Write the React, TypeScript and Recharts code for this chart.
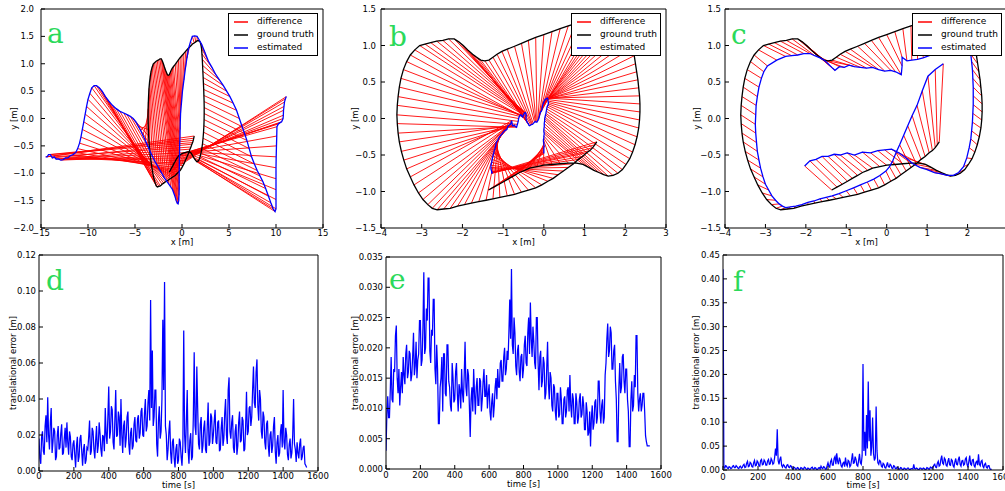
import type { ReactNode } from 'react';
import { Label, Legend, Line, LineChart, XAxis, YAxis } from 'recharts';

type Pt = [number, number];

// ground truth path, shared by panels a, b and c  [x, y] in metres
const groundTruth: Pt[] = [
  [-1.36, -0.98], [-1.23, -0.94], [-1.1, -0.9], [-0.97, -0.86], [-0.85, -0.82], [-0.72, -0.78], [-0.6, -0.74], [-0.47, -0.71], [-0.35, -0.68], [-0.17, -0.66],
  [0.0, -0.64], [0.2, -0.63], [0.4, -0.62], [0.6, -0.61], [0.8, -0.61], [0.96, -0.63], [1.1, -0.67], [1.23, -0.71], [1.35, -0.74], [1.47, -0.77],
  [1.58, -0.79], [1.7, -0.78], [1.82, -0.75], [1.93, -0.7], [2.02, -0.63], [2.11, -0.55], [2.18, -0.46], [2.24, -0.36], [2.29, -0.25], [2.33, -0.13],
  [2.35, -0.02], [2.36, 0.09], [2.36, 0.2], [2.35, 0.31], [2.33, 0.42], [2.31, 0.53], [2.28, 0.64], [2.25, 0.75], [2.22, 0.86], [2.19, 0.97],
  [2.16, 1.08], [2.12, 1.18], [2.08, 1.28], [2.01, 1.35], [1.92, 1.4], [1.78, 1.42],
  [1.62, 1.42], [1.46, 1.4], [1.3, 1.38], [1.12, 1.36], [0.95, 1.33], [0.78, 1.3], [0.6, 1.27], [0.4, 1.23], [0.2, 1.19], [0.0, 1.15],
  [-0.2, 1.11], [-0.38, 1.07], [-0.55, 1.03], [-0.72, 0.99], [-0.9, 0.95], [-1.03, 0.92], [-1.15, 0.88], [-1.25, 0.84], [-1.35, 0.8], [-1.45, 0.79],
  [-1.55, 0.8], [-1.65, 0.84], [-1.75, 0.88], [-1.87, 0.94], [-1.98, 1.0], [-2.09, 1.05], [-2.2, 1.09], [-2.34, 1.09], [-2.48, 1.07], [-2.63, 1.06],
  [-2.78, 1.04], [-2.92, 1.02], [-3.05, 1.0], [-3.17, 0.94],
  [-3.28, 0.87], [-3.37, 0.78], [-3.45, 0.67], [-3.51, 0.55], [-3.55, 0.43], [-3.58, 0.3], [-3.6, 0.18], [-3.61, 0.05], [-3.6, -0.07], [-3.58, -0.2],
  [-3.55, -0.32], [-3.5, -0.45], [-3.44, -0.57], [-3.37, -0.69], [-3.28, -0.8], [-3.19, -0.91], [-3.08, -1.02], [-2.97, -1.11], [-2.85, -1.18], [-2.74, -1.23],
  [-2.62, -1.25], [-2.46, -1.24],
  [-2.3, -1.23], [-2.12, -1.2], [-1.95, -1.18], [-1.78, -1.16], [-1.6, -1.14], [-1.42, -1.12], [-1.25, -1.1], [-1.08, -1.08], [-0.9, -1.06], [-0.72, -1.04],
  [-0.55, -1.01], [-0.38, -0.98], [-0.2, -0.95], [-0.05, -0.91], [0.1, -0.86], [0.23, -0.82], [0.35, -0.77], [0.48, -0.72], [0.6, -0.67], [0.73, -0.62],
  [0.85, -0.56], [0.95, -0.52], [1.05, -0.47], [1.13, -0.44], [1.2, -0.4], [1.25, -0.36], [1.3, -0.32],
];

const estimatedA: Pt[] = [
  [11.1, 0.4], [11.0, 0.36], [10.9, 0.3], [10.85, 0.22], [10.8, 0.15], [10.78, 0.06], [10.75, 0.0], [10.6, -0.06], [10.4, -0.08], [10.25, -0.1],
  [10.1, -0.15], [10.08, -0.32], [10.05, -0.5], [10.02, -0.7], [10.0, -0.9], [10.0, -1.1], [10.0, -1.3], [10.0, -1.48], [10.0, -1.65], [9.9, -1.7],
  [9.7, -1.65], [9.45, -1.54], [9.2, -1.42], [8.9, -1.28], [8.6, -1.15], [8.3, -1.05], [8.0, -0.95], [7.7, -0.83], [7.4, -0.7], [7.15, -0.55],
  [6.9, -0.4], [6.65, -0.27], [6.4, -0.15], [6.1, 0.0], [5.8, 0.15], [5.45, 0.28], [5.1, 0.4], [4.75, 0.5], [4.4, 0.6], [4.0, 0.7],
  [3.6, 0.8], [3.2, 0.93], [2.8, 1.05], [2.45, 1.2], [2.1, 1.35], [1.85, 1.43],
  [1.6, 1.5], [1.35, 1.51], [1.1, 1.5], [0.9, 1.4], [0.7, 1.28], [0.52, 1.1], [0.35, 0.9], [0.2, 0.7], [0.05, 0.5], [-0.05, 0.3],
  [-0.15, 0.1], [-0.18, -0.05], [-0.2, -0.2], [-0.22, -0.35], [-0.25, -0.5], [-0.26, -0.65], [-0.28, -0.8], [-0.29, -0.92], [-0.3, -1.05], [-0.3, -1.18],
  [-0.3, -1.3], [-0.32, -1.4], [-0.35, -1.5], [-0.42, -1.56], [-0.5, -1.55], [-0.62, -1.5], [-0.75, -1.42], [-0.88, -1.36], [-1.0, -1.3], [-1.2, -1.25],
  [-1.4, -1.2], [-1.65, -1.14], [-1.9, -1.08], [-2.15, -1.0],
  [-2.4, -0.93], [-2.65, -0.85], [-2.9, -0.78], [-3.15, -0.69], [-3.4, -0.6], [-3.65, -0.5], [-3.9, -0.4], [-4.15, -0.31], [-4.4, -0.22], [-4.65, -0.14],
  [-4.9, -0.06], [-5.2, 0.0], [-5.5, 0.04], [-5.85, 0.07], [-6.2, 0.1], [-6.6, 0.13], [-7.0, 0.18], [-7.4, 0.24], [-7.8, 0.32], [-8.15, 0.4],
  [-8.5, 0.5], [-8.8, 0.56],
  [-9.1, 0.6], [-9.35, 0.6], [-9.6, 0.56], [-9.8, 0.46], [-10.0, 0.35], [-10.15, 0.22], [-10.3, 0.08], [-10.45, -0.06], [-10.6, -0.2], [-10.75, -0.34],
  [-10.9, -0.45], [-11.1, -0.55], [-11.3, -0.62], [-11.6, -0.66], [-11.9, -0.68], [-12.15, -0.72], [-12.4, -0.72], [-12.65, -0.75], [-12.9, -0.76], [-13.15, -0.74],
  [-13.4, -0.74], [-13.6, -0.7], [-13.8, -0.72], [-14.0, -0.66], [-14.2, -0.66], [-14.35, -0.7], [-14.5, -0.7],
];

const estimatedB: Pt[] = [
  [0.0, -0.48], [0.0, -0.47], [0.0, -0.46], [0.0, -0.45], [0.0, -0.44], [0.0, -0.42], [0.0, -0.4], [0.01, -0.38], [0.0, -0.36], [0.0, -0.34],
  [-0.01, -0.31], [-0.01, -0.29], [0.0, -0.27], [0.0, -0.24], [0.01, -0.21], [0.0, -0.18], [0.0, -0.15], [0.01, -0.11], [0.01, -0.07], [0.02, -0.03],
  [0.02, 0.0], [0.03, 0.02], [0.04, 0.05], [0.05, 0.07], [0.06, 0.1], [0.07, 0.13], [0.08, 0.16], [0.1, 0.18], [0.11, 0.2], [0.11, 0.22],
  [0.1, 0.24], [0.1, 0.26], [0.09, 0.28], [0.08, 0.28], [0.06, 0.27], [0.05, 0.27], [0.04, 0.26], [0.03, 0.26], [0.02, 0.25], [0.01, 0.24],
  [0.0, 0.23], [0.0, 0.22], [-0.01, 0.21], [-0.01, 0.21], [-0.02, 0.2], [-0.02, 0.2],
  [-0.03, 0.18], [-0.04, 0.15], [-0.05, 0.12], [-0.06, 0.1], [-0.08, 0.09], [-0.1, 0.06], [-0.11, 0.03], [-0.12, 0.01], [-0.13, -0.01], [-0.15, -0.03],
  [-0.17, -0.05], [-0.19, -0.05], [-0.21, -0.04], [-0.23, -0.05], [-0.26, -0.07], [-0.28, -0.08], [-0.3, -0.08], [-0.32, -0.09], [-0.35, -0.1], [-0.37, -0.09],
  [-0.38, -0.07], [-0.4, -0.06], [-0.42, -0.04], [-0.43, -0.02], [-0.44, 0.0], [-0.44, 0.02], [-0.43, 0.04], [-0.44, 0.06], [-0.45, 0.08], [-0.46, 0.08],
  [-0.47, 0.08], [-0.48, 0.07], [-0.49, 0.06], [-0.5, 0.05],
  [-0.52, 0.02], [-0.54, 0.03], [-0.56, 0.05], [-0.58, 0.05], [-0.6, 0.03], [-0.62, 0.0], [-0.63, -0.04], [-0.65, -0.08], [-0.67, -0.12], [-0.7, -0.11],
  [-0.72, -0.09], [-0.75, -0.1], [-0.77, -0.1], [-0.78, -0.07], [-0.79, -0.03], [-0.8, -0.05], [-0.82, -0.08], [-0.84, -0.09], [-0.87, -0.1], [-0.89, -0.12],
  [-0.91, -0.15], [-0.94, -0.16],
  [-0.97, -0.17], [-1.0, -0.19], [-1.04, -0.22], [-1.06, -0.23], [-1.09, -0.25], [-1.11, -0.27], [-1.13, -0.3], [-1.15, -0.31], [-1.17, -0.33], [-1.18, -0.37],
  [-1.2, -0.41], [-1.22, -0.44], [-1.23, -0.47], [-1.25, -0.51], [-1.27, -0.56], [-1.28, -0.6], [-1.3, -0.64], [-1.3, -0.67], [-1.3, -0.69], [-1.29, -0.71],
  [-1.28, -0.73], [-1.28, -0.73], [-1.28, -0.74], [-1.27, -0.74], [-1.28, -0.75], [-1.28, -0.75], [-1.29, -0.75],
];

const estimatedC: Pt[] = [
  [-2.03, -0.65], [-1.9, -0.58], [-1.75, -0.56], [-1.6, -0.52], [-1.45, -0.52], [-1.3, -0.49], [-1.15, -0.5], [-0.98, -0.47], [-0.8, -0.5], [-0.6, -0.46],
  [-0.4, -0.47], [-0.22, -0.44], [-0.05, -0.43], [0.12, -0.42], [0.3, -0.47], [0.48, -0.54], [0.65, -0.62], [0.82, -0.67], [1.0, -0.7], [1.18, -0.74],
  [1.35, -0.76], [1.5, -0.78], [1.65, -0.78], [1.78, -0.74], [1.9, -0.66], [1.98, -0.54], [2.04, -0.4], [2.08, -0.28], [2.1, -0.17], [2.12, -0.05],
  [2.13, 0.07], [2.14, 0.19], [2.14, 0.31], [2.14, 0.43], [2.13, 0.55], [2.12, 0.67], [2.1, 0.78], [2.08, 0.88], [2.05, 0.98], [2.02, 1.06],
  [1.98, 1.12], [1.94, 1.17], [1.9, 1.2], [1.82, 1.12], [1.75, 1.02], [1.65, 1.0],
  [1.55, 0.98], [1.38, 0.93], [1.2, 0.9], [1.05, 0.86], [0.9, 0.83], [0.76, 0.81], [0.62, 0.8], [0.5, 0.79], [0.38, 0.84], [0.38, 0.72],
  [0.36, 0.6], [0.22, 0.64], [0.1, 0.66], [-0.05, 0.65], [-0.2, 0.67], [-0.35, 0.7], [-0.5, 0.69], [-0.65, 0.7], [-0.8, 0.71], [-0.93, 0.73],
  [-1.05, 0.7], [-1.17, 0.71], [-1.28, 0.66], [-1.36, 0.7], [-1.45, 0.75], [-1.55, 0.8], [-1.65, 0.83], [-1.78, 0.86], [-1.9, 0.89], [-2.05, 0.89],
  [-2.2, 0.87], [-2.35, 0.86], [-2.5, 0.85], [-2.72, 0.8],
  [-2.95, 0.72], [-3.04, 0.64], [-3.1, 0.55], [-3.16, 0.43], [-3.2, 0.3], [-3.23, 0.18], [-3.24, 0.05], [-3.25, -0.08], [-3.24, -0.2], [-3.22, -0.33],
  [-3.2, -0.45], [-3.16, -0.57], [-3.12, -0.68], [-3.06, -0.8], [-3.0, -0.9], [-2.92, -0.98], [-2.84, -1.06], [-2.75, -1.12], [-2.66, -1.17], [-2.58, -1.2],
  [-2.5, -1.22], [-2.38, -1.21],
  [-2.25, -1.2], [-2.1, -1.18], [-1.95, -1.15], [-1.8, -1.13], [-1.65, -1.1], [-1.5, -1.08], [-1.35, -1.06], [-1.18, -1.03], [-1.0, -0.99], [-0.82, -0.95],
  [-0.65, -0.91], [-0.48, -0.87], [-0.32, -0.83], [-0.17, -0.78], [-0.02, -0.72], [0.07, -0.66], [0.15, -0.58], [0.23, -0.47], [0.32, -0.36], [0.42, -0.23],
  [0.52, -0.1], [0.63, 0.04], [0.75, 0.18], [0.88, 0.38], [1.02, 0.58], [1.2, 0.67], [1.4, 0.75],
];

const xTicksA = [-15, -10, -5, 0, 5, 10, 15];
const yTicksA = [-2, -1.5, -1, -0.5, 0, 0.5, 1, 1.5, 2];
const xTicksB = [-4, -3, -2, -1, 0, 1, 2, 3];
const xTicksC = [-4, -3, -2, -1, 0, 1, 2];
const yTicksBC = [-1.5, -1, -0.5, 0, 0.5, 1, 1.5];

const SAMPLE_STEP = 5; // seconds between error samples
const timeTicks = [0, 200, 400, 600, 800, 1000, 1200, 1400, 1600];

const errorD = [
  0.018, 0.007, 0.004, 0.019, 0.022, 0.011, 0.009, 0.025, 0.031, 0.016, 0.041, 0.02, 0.012, 0.027, 0.035, 0.01,
  0.016, 0.024, 0.022, 0.006, 0.008, 0.02, 0.025, 0.012, 0.013, 0.021, 0.026, 0.009, 0.01, 0.018, 0.024, 0.013,
  0.027, 0.016, 0.009, 0.022, 0.019, 0.008, 0.006, 0.015, 0.017, 0.009, 0.002, 0.014, 0.019, 0.005, 0.008, 0.018,
  0.02, 0.011, 0.003, 0.012, 0.015, 0.004, 0.006, 0.013, 0.012, 0.019, 0.028, 0.009, 0.011, 0.024, 0.022, 0.012,
  0.007, 0.017, 0.025, 0.01, 0.014, 0.027, 0.021, 0.012, 0.008, 0.02, 0.019, 0.011, 0.035, 0.02, 0.015, 0.03,
  0.047, 0.018, 0.022, 0.036, 0.034, 0.016, 0.012, 0.028, 0.045, 0.019, 0.02, 0.033, 0.03, 0.014, 0.04, 0.02,
  0.01, 0.025, 0.028, 0.013, 0.018, 0.03, 0.033, 0.015, 0.009, 0.021, 0.024, 0.012, 0.014, 0.026, 0.03, 0.017,
  0.016, 0.029, 0.031, 0.018, 0.021, 0.033, 0.035, 0.02, 0.019, 0.032, 0.04, 0.022, 0.025, 0.038, 0.045, 0.028,
  0.095, 0.035, 0.067, 0.025, 0.03, 0.045, 0.045, 0.015, 0.008, 0.028, 0.036, 0.018, 0.022, 0.04, 0.084, 0.045,
  0.105, 0.025, 0.02, 0.006, 0.012, 0.022, 0.028, 0.01, 0.004, 0.016, 0.018, 0.007, 0.002, 0.012, 0.015, 0.004,
  0.006, 0.018, 0.016, 0.008, 0.003, 0.014, 0.078, 0.02, 0.01, 0.028, 0.045, 0.012, 0.004, 0.017, 0.021, 0.006,
  0.008, 0.03, 0.066, 0.025, 0.02, 0.058, 0.035, 0.015, 0.012, 0.026, 0.03, 0.01, 0.014, 0.024, 0.028, 0.012,
  0.01, 0.025, 0.038, 0.014, 0.016, 0.032, 0.03, 0.015, 0.02, 0.028, 0.034, 0.016, 0.015, 0.027, 0.028, 0.011,
  0.012, 0.024, 0.03, 0.014, 0.018, 0.032, 0.04, 0.02, 0.015, 0.045, 0.052, 0.022, 0.018, 0.027, 0.031, 0.013,
  0.01, 0.022, 0.026, 0.009, 0.014, 0.027, 0.033, 0.016, 0.017, 0.03, 0.028, 0.011, 0.012, 0.025, 0.044, 0.02,
  0.022, 0.035, 0.036, 0.025, 0.03, 0.045, 0.058, 0.038, 0.035, 0.055, 0.062, 0.036, 0.028, 0.045, 0.04, 0.022,
  0.018, 0.033, 0.03, 0.016, 0.012, 0.026, 0.028, 0.014, 0.008, 0.02, 0.022, 0.01, 0.014, 0.025, 0.03, 0.011,
  0.004, 0.016, 0.02, 0.008, 0.01, 0.022, 0.026, 0.013, 0.045, 0.016, 0.012, 0.024, 0.02, 0.009, 0.006, 0.015,
  0.018, 0.007, 0.01, 0.02, 0.04, 0.015, 0.012, 0.005, 0.016, 0.01, 0.007, 0.015, 0.018, 0.006, 0.008, 0.013,
  0.014, 0.004, 0.003, 0.002,
];

const errorE = [
  0.003, 0.009, 0.012, 0.0085, 0.0085, 0.013, 0.0185, 0.0115, 0.011, 0.0165, 0.016, 0.022, 0.0237, 0.015, 0.0125, 0.0165,
  0.0105, 0.0135, 0.016, 0.0125, 0.0185, 0.0155, 0.014, 0.019, 0.0205, 0.015, 0.016, 0.0195, 0.019, 0.0145, 0.0155, 0.0185,
  0.0225, 0.0155, 0.017, 0.021, 0.015, 0.018, 0.019, 0.0245, 0.0245, 0.017, 0.018, 0.0235, 0.0325, 0.019, 0.02, 0.0265,
  0.0245, 0.0315, 0.0315, 0.0195, 0.0175, 0.023, 0.022, 0.028, 0.028, 0.0165, 0.014, 0.0205, 0.0165, 0.0075, 0.0075, 0.0135,
  0.015, 0.0185, 0.0095, 0.019, 0.019, 0.0125, 0.012, 0.0205, 0.0205, 0.0145, 0.0135, 0.0105, 0.0095, 0.0175, 0.015, 0.011,
  0.0115, 0.016, 0.0175, 0.0125, 0.0095, 0.014, 0.013, 0.01, 0.0165, 0.0125, 0.011, 0.0155, 0.021, 0.0135, 0.012, 0.0165,
  0.0155, 0.0105, 0.0053, 0.0115, 0.0135, 0.0095, 0.0165, 0.0125, 0.009, 0.0135, 0.015, 0.0105, 0.0105, 0.015, 0.0145, 0.0095,
  0.0115, 0.0145, 0.0165, 0.012, 0.012, 0.0155, 0.01, 0.0125, 0.014, 0.0095, 0.008, 0.011, 0.0125, 0.0085, 0.0105, 0.0135,
  0.015, 0.0115, 0.0165, 0.0135, 0.0135, 0.0175, 0.018, 0.0145, 0.0145, 0.0185, 0.02, 0.0155, 0.0165, 0.0195, 0.018, 0.0225,
  0.028, 0.0215, 0.033, 0.0205, 0.019, 0.025, 0.0225, 0.017, 0.0155, 0.0195, 0.0205, 0.016, 0.0145, 0.0185, 0.019, 0.015,
  0.0165, 0.0205, 0.022, 0.0175, 0.017, 0.0225, 0.025, 0.019, 0.0275, 0.0215, 0.0185, 0.0235, 0.021, 0.0175, 0.0165, 0.025,
  0.025, 0.0175, 0.013, 0.0185, 0.0195, 0.0135, 0.0145, 0.0185, 0.0175, 0.0115, 0.0125, 0.0165, 0.021, 0.014, 0.0115, 0.016,
  0.015, 0.0105, 0.0095, 0.014, 0.0135, 0.0095, 0.008, 0.0125, 0.0125, 0.0085, 0.009, 0.0135, 0.0115, 0.0075, 0.0075, 0.0115,
  0.012, 0.0085, 0.0095, 0.013, 0.0135, 0.0095, 0.0155, 0.0105, 0.0085, 0.0125, 0.0115, 0.0075, 0.0075, 0.0125, 0.011, 0.0075,
  0.0085, 0.0115, 0.0125, 0.0085, 0.009, 0.012, 0.0105, 0.0065, 0.0065, 0.011, 0.0095, 0.0055, 0.006, 0.0095, 0.0037, 0.0085,
  0.0105, 0.0065, 0.0075, 0.011, 0.0115, 0.0075, 0.0085, 0.0145, 0.0145, 0.0095, 0.0075, 0.0105, 0.0115, 0.0075, 0.0085, 0.0155,
  0.0175, 0.0215, 0.024, 0.0185, 0.0195, 0.0235, 0.0225, 0.0165, 0.0165, 0.0195, 0.0205, 0.0145, 0.0115, 0.0045, 0.0045, 0.0135,
  0.0175, 0.0125, 0.0135, 0.0185, 0.019, 0.0145, 0.0125, 0.0165, 0.0165, 0.0115, 0.0095, 0.0037, 0.0037, 0.0115, 0.0145, 0.0095,
  0.0105, 0.0155, 0.0135, 0.022, 0.022, 0.0125, 0.0095, 0.0115, 0.0125, 0.0095, 0.0105, 0.0125, 0.0125, 0.0095, 0.0055, 0.0045,
  0.0038, 0.0038, 0.0038, 0.0038,
];

const errorF = [
  0.42, 0.006, 0.004, 0.009, 0.008, 0.004, 0.003, 0.007, 0.006, 0.003, 0.004, 0.008, 0.009, 0.005, 0.005, 0.009,
  0.007, 0.004, 0.003, 0.007, 0.008, 0.004, 0.005, 0.01, 0.012, 0.005, 0.006, 0.014, 0.018, 0.007, 0.008, 0.016,
  0.014, 0.007, 0.006, 0.015, 0.02, 0.009, 0.01, 0.019, 0.016, 0.009, 0.008, 0.02, 0.022, 0.011, 0.012, 0.021,
  0.018, 0.01, 0.01, 0.019, 0.022, 0.012, 0.013, 0.024, 0.02, 0.012, 0.014, 0.026, 0.045, 0.03, 0.085, 0.02,
  0.012, 0.022, 0.028, 0.01, 0.006, 0.011, 0.009, 0.005, 0.004, 0.01, 0.011, 0.006, 0.005, 0.009, 0.008, 0.003,
  0.002, 0.006, 0.005, 0.002, 0.002, 0.005, 0.004, 0.001, 0.001, 0.005, 0.004, 0.002, 0.002, 0.006, 0.005, 0.002,
  0.001, 0.004, 0.003, 0.001, 0.002, 0.005, 0.006, 0.002, 0.002, 0.005, 0.004, 0.001, 0.001, 0.004, 0.005, 0.002,
  0.008, 0.004, 0.003, 0.007, 0.006, 0.002, 0.002, 0.009, 0.015, 0.008, 0.006, 0.018, 0.022, 0.01, 0.01, 0.024,
  0.028, 0.012, 0.035, 0.018, 0.012, 0.026, 0.02, 0.009, 0.006, 0.014, 0.016, 0.007, 0.026, 0.012, 0.008, 0.02,
  0.018, 0.007, 0.01, 0.022, 0.035, 0.014, 0.015, 0.028, 0.022, 0.01, 0.008, 0.02, 0.034, 0.015, 0.012, 0.03,
  0.222, 0.04, 0.08, 0.03, 0.115, 0.045, 0.185, 0.06, 0.125, 0.03, 0.05, 0.11, 0.035, 0.02, 0.025, 0.133,
  0.04, 0.015, 0.012, 0.02, 0.018, 0.008, 0.006, 0.014, 0.012, 0.005, 0.004, 0.01, 0.016, 0.007, 0.006, 0.012,
  0.01, 0.004, 0.003, 0.009, 0.008, 0.003, 0.003, 0.006, 0.005, 0.002, 0.002, 0.005, 0.004, 0.001, 0.001, 0.004,
  0.003, 0.001, 0.002, 0.004, 0.004, 0.001, 0.001, 0.003, 0.003, 0.002, 0.012, 0.003, 0.002, 0.004, 0.003, 0.001,
  0.001, 0.004, 0.004, 0.002, 0.002, 0.004, 0.003, 0.001, 0.001, 0.005, 0.004, 0.002, 0.002, 0.006, 0.005, 0.003,
  0.006, 0.01, 0.012, 0.006, 0.005, 0.014, 0.018, 0.008, 0.01, 0.022, 0.03, 0.014, 0.012, 0.025, 0.022, 0.01,
  0.008, 0.018, 0.025, 0.011, 0.01, 0.022, 0.02, 0.009, 0.006, 0.017, 0.024, 0.012, 0.011, 0.022, 0.028, 0.012,
  0.008, 0.019, 0.02, 0.01, 0.012, 0.023, 0.026, 0.011, 0.007, 0.018, 0.03, 0.012, 0.01, 0.021, 0.022, 0.009,
  0.006, 0.016, 0.018, 0.01, 0.033, 0.012, 0.009, 0.018, 0.02, 0.008, 0.005, 0.012, 0.014, 0.006, 0.004, 0.009,
  0.009, 0.003, 0.001, 0.002,
];

const yTicksD = [0, 0.02, 0.04, 0.06, 0.08, 0.1, 0.12];
const yTicksE = [0, 0.005, 0.01, 0.015, 0.02, 0.025, 0.03, 0.035];
const yTicksF = [0, 0.05, 0.1, 0.15, 0.2, 0.25, 0.3, 0.35, 0.4, 0.45];

const FONT = '"DejaVu Sans", sans-serif';
const GREEN = '#2bd95a';
const RED = '#ff0000';
const BLACK = '#000000';
const BLUE = '#0000ff';
const tickStyle = { fontSize: 8.5, fill: '#000', fontFamily: FONT };
const labelStyle = { fontSize: 8.5, fill: '#000', fontFamily: FONT, textAnchor: 'middle' as const };
const legendItems = [
  { name: 'difference', color: RED },
  { name: 'ground truth', color: BLACK },
  { name: 'estimated', color: BLUE },
];

const fmt = (digits: number) => (v: number) => (v < 0 ? '\u2212' : '') + Math.abs(v).toFixed(digits);

const toPoints = (pts: Pt[]) => pts.map(([x, y]) => ({ x, y }));
const toSegments = (from: Pt[], to: Pt[]) =>
  from.flatMap(([x, y], i) => [{ x, y }, { x: to[i][0], y: to[i][1] }, { x: null, y: null }]);
const toSeries = (vals: number[]) => vals.map((v, i) => ({ x: i * SAMPLE_STEP, y: v }));

interface Rect {
  left: number;
  top: number;
  width: number;
  height: number;
}

interface FrameProps {
  box: Rect;
  plot: Rect;
  xDomain: [number, number];
  xTicks: number[];
  xDigits: number;
  xLabel: string;
  xTickGap: number;
  xLabelOffset: number;
  yDomain: [number, number];
  yTicks: number[];
  yDigits: number;
  yLabel: string;
  yTickGap: number;
  yLabelX: number;
  legendLeft?: number;
  children: ReactNode;
}

function LegendBox() {
  return (
    <div
      style={{
        border: '1px solid #000',
        background: '#fff',
        padding: '1px 3px 1px 5px',
        fontFamily: FONT,
        fontSize: 9,
        lineHeight: '13px',
        color: '#000',
      }}
    >
      {legendItems.map((p) => (
        <div key={p.name} style={{ display: 'flex', alignItems: 'center', whiteSpace: 'nowrap' }}>
          <svg width={14} height={4} style={{ marginRight: 9, display: 'block' }}>
            <line x1={0} y1={2} x2={14} y2={2} stroke={p.color} strokeWidth={1.5} />
          </svg>
          {p.name}
        </div>
      ))}
    </div>
  );
}

function Frame(p: FrameProps) {
  const { box, plot } = p;
  const margin = {
    top: plot.top - box.top - 1,
    right: box.left + box.width - plot.left - plot.width - 1,
    bottom: 0,
    left: 0,
  };
  const xAxisH = box.top + box.height - plot.top - plot.height;
  const yAxisW = plot.left - box.left;
  return (
    <div style={{ position: 'absolute', left: box.left, top: box.top }}>
      <LineChart width={box.width} height={box.height} margin={margin}>
        <XAxis
          xAxisId="x"
          type="number"
          dataKey="x"
          domain={p.xDomain}
          ticks={p.xTicks}
          interval={0}
          allowDataOverflow
          height={xAxisH}
          tickSize={-4}
          tickMargin={p.xTickGap + 4}
          tickFormatter={fmt(p.xDigits)}
          tick={tickStyle}
          stroke="#000"
        >
          <Label value={p.xLabel} position="insideBottom" offset={p.xLabelOffset} style={labelStyle} />
        </XAxis>
        <XAxis
          xAxisId="top"
          orientation="top"
          type="number"
          domain={p.xDomain}
          ticks={p.xTicks}
          interval={0}
          allowDataOverflow
          height={1}
          tickSize={-4}
          tick={false}
          stroke="#000"
        />
        <YAxis
          yAxisId="y"
          type="number"
          domain={p.yDomain}
          ticks={p.yTicks}
          interval={0}
          allowDataOverflow
          width={yAxisW}
          tickSize={-4}
          tickMargin={p.yTickGap + 4}
          tickFormatter={fmt(p.yDigits)}
          tick={tickStyle}
          stroke="#000"
        >
          <Label value={p.yLabel} angle={-90} position="insideLeft" offset={p.yLabelX} style={labelStyle} />
        </YAxis>
        <YAxis
          yAxisId="right"
          orientation="right"
          type="number"
          domain={p.yDomain}
          ticks={p.yTicks}
          interval={0}
          allowDataOverflow
          width={1}
          tickSize={-4}
          tick={false}
          stroke="#000"
        />
        {p.children}
        {p.legendLeft !== undefined && (
          <Legend
            layout="horizontal"
            verticalAlign="middle"
            align="center"
            content={<LegendBox />}
            wrapperStyle={{ left: p.legendLeft, top: 13 - box.top, width: 'auto', height: 'auto' }}
          />
        )}
      </LineChart>
    </div>
  );
}

function trajectoryLines(est: Pt[]) {
  return [
    <Line
      key="diff"
      xAxisId="x"
      yAxisId="y"
      data={toSegments(groundTruth, est)}
      dataKey="y"
      name="difference"
      stroke={RED}
      strokeWidth={0.9}
      dot={false}
      activeDot={false}
      connectNulls={false}
      isAnimationActive={false}
    />,
    <Line
      key="gt"
      xAxisId="x"
      yAxisId="y"
      data={toPoints(groundTruth)}
      dataKey="y"
      name="ground truth"
      stroke={BLACK}
      strokeWidth={1.3}
      dot={false}
      activeDot={false}
      isAnimationActive={false}
    />,
    <Line
      key="est"
      xAxisId="x"
      yAxisId="y"
      data={toPoints(est)}
      dataKey="y"
      name="estimated"
      stroke={BLUE}
      strokeWidth={1.3}
      dot={false}
      activeDot={false}
      isAnimationActive={false}
    />,
  ];
}

function errorLine(vals: number[]) {
  return (
    <Line
      xAxisId="x"
      yAxisId="y"
      data={toSeries(vals)}
      dataKey="y"
      stroke={BLUE}
      strokeWidth={1.25}
      dot={false}
      activeDot={false}
      isAnimationActive={false}
    />
  );
}

const letters = [
  { t: 'a', x: 47, y: 43 },
  { t: 'b', x: 389, y: 46 },
  { t: 'c', x: 731, y: 44 },
  { t: 'd', x: 46, y: 290 },
  { t: 'e', x: 389, y: 289 },
  { t: 'f', x: 733, y: 291 },
];

export default function App() {
  return (
    <div style={{ position: 'fixed', left: 0, top: 0, width: 1005, height: 491, overflow: 'hidden', background: '#fff' }}>
      <Frame
        box={{ left: 0, top: 0, width: 340, height: 247 }}
        plot={{ left: 41, top: 9, width: 282, height: 219 }}
        xDomain={[-15, 15]}
        xTicks={xTicksA}
        xDigits={0}
        xLabel="x [m]"
        xTickGap={2}
        xLabelOffset={2}
        yDomain={[-2, 2]}
        yTicks={yTicksA}
        yDigits={1}
        yLabel="y [m]"
        yTickGap={7}
        yLabelX={14}
        legendLeft={228}
      >
        {trajectoryLines(estimatedA)}
      </Frame>
      <Frame
        box={{ left: 340, top: 0, width: 335, height: 247 }}
        plot={{ left: 381, top: 9, width: 285, height: 219 }}
        xDomain={[-4, 3]}
        xTicks={xTicksB}
        xDigits={0}
        xLabel="x [m]"
        xTickGap={2}
        xLabelOffset={2}
        yDomain={[-1.5, 1.5]}
        yTicks={yTicksBC}
        yDigits={1}
        yLabel="y [m]"
        yTickGap={5}
        yLabelX={15}
        legendLeft={231}
      >
        {trajectoryLines(estimatedB)}
      </Frame>
      <Frame
        box={{ left: 675, top: 0, width: 340, height: 247 }}
        plot={{ left: 725, top: 9, width: 283, height: 219 }}
        xDomain={[-4, 3]}
        xTicks={xTicksC}
        xDigits={0}
        xLabel="x [m]"
        xTickGap={2}
        xLabelOffset={2}
        yDomain={[-1.5, 1.5]}
        yTicks={yTicksBC}
        yDigits={1}
        yLabel="y [m]"
        yTickGap={4}
        yLabelX={22}
        legendLeft={237}
      >
        {trajectoryLines(estimatedC)}
      </Frame>
      <Frame
        box={{ left: 0, top: 245, width: 335, height: 246 }}
        plot={{ left: 39, top: 255, width: 279, height: 216 }}
        xDomain={[0, 1600]}
        xTicks={timeTicks}
        xDigits={0}
        xLabel="time [s]"
        xTickGap={2}
        xLabelOffset={3}
        yDomain={[0, 0.12]}
        yTicks={yTicksD}
        yDigits={2}
        yLabel="translational error [m]"
        yTickGap={3}
        yLabelX={13}
      >
        {errorLine(errorD)}
      </Frame>
      <Frame
        box={{ left: 335, top: 245, width: 340, height: 246 }}
        plot={{ left: 386, top: 257, width: 275, height: 212 }}
        xDomain={[0, 1600]}
        xTicks={timeTicks}
        xDigits={0}
        xLabel="time [s]"
        xTickGap={3}
        xLabelOffset={4}
        yDomain={[0, 0.035]}
        yTicks={yTicksE}
        yDigits={3}
        yLabel="translational error [m]"
        yTickGap={3}
        yLabelX={20}
      >
        {errorLine(errorE)}
      </Frame>
      <Frame
        box={{ left: 675, top: 245, width: 330, height: 246 }}
        plot={{ left: 723, top: 255, width: 280, height: 215 }}
        xDomain={[0, 1600]}
        xTicks={timeTicks}
        xDigits={0}
        xLabel="time [s]"
        xTickGap={4}
        xLabelOffset={3}
        yDomain={[0, 0.45]}
        yTicks={yTicksF}
        yDigits={2}
        yLabel="translational error [m]"
        yTickGap={3}
        yLabelX={21}
      >
        {errorLine(errorF)}
      </Frame>
      <svg width={1005} height={491} style={{ position: 'absolute', left: 0, top: 0, pointerEvents: 'none' }}>
        {letters.map((l) => (
          <text key={l.t} x={l.x} y={l.y} fill={GREEN} fontSize={28} fontFamily='"DejaVu Serif", serif'>
            {l.t}
          </text>
        ))}
      </svg>
    </div>
  );
}
